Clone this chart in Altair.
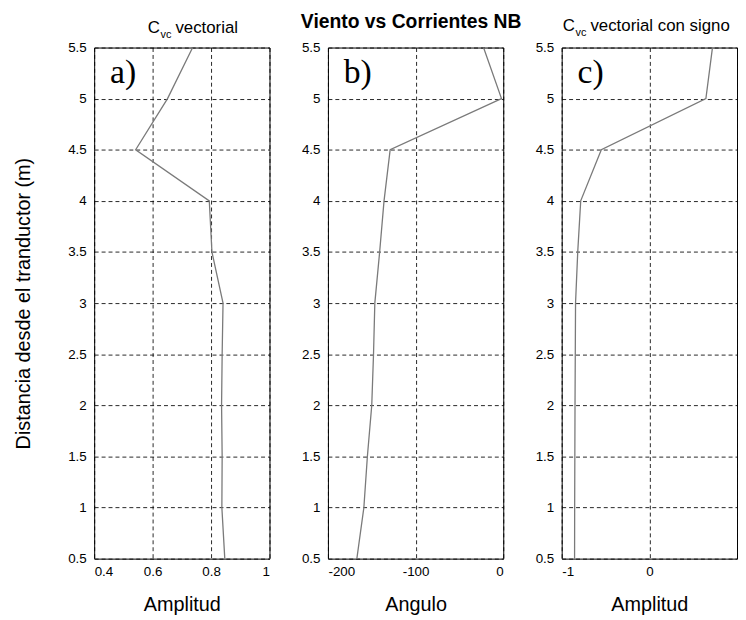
import altair as alt
import pandas as pd

# Heights above the transducer (m)
heights = [0.5, 1.0, 1.5, 2.0, 2.5, 3.0, 3.5, 4.0, 4.5, 5.0, 5.5]
# a) C_vc vectorial amplitude
amp_vec = [0.847, 0.837, 0.838, 0.836, 0.838, 0.841, 0.803, 0.794, 0.542, 0.651, 0.737]
# b) angle (degrees)
angle = [-167, -159, -155, -150, -148, -146.5, -141, -136, -129, -2, -22.5]
# c) C_vc vectorial con signo
amp_sign = [-0.853, -0.852, -0.85, -0.848, -0.845, -0.842, -0.817, -0.783, -0.548, 0.645, 0.72]

y_ticks = [0.5, 1.0, 1.5, 2.0, 2.5, 3.0, 3.5, 4.0, 4.5, 5.0, 5.5]
a_ticks = [0.4, 0.6, 0.8, 1.0]
b_ticks = [-200, -100, 0]
c_ticks = [-1, 0, 1]

W, H = 177, 516
FONT = "Liberation Sans"
LINE_COLOR = "#7a7a7a"


def text_layer(txt, x, y, size, weight="normal", font=FONT, align="left"):
    return alt.Chart(pd.DataFrame({"t": [txt]})).mark_text(
        align=align, baseline="alphabetic", fontSize=size, font=font,
        fontWeight=weight, color="black"
    ).encode(x=alt.value(x), y=alt.value(y), text="t:N")


def sub_title(x, y, rest):
    return [
        text_layer("C", x, y, 17),
        text_layer("vc", x + 13, y + 5, 11),
        text_layer(rest, x + 28, y, 17),
    ]


def panel(values, domain, ticks, xtitle, letter, title_layers, first=False, hide_last=False):
    df = pd.DataFrame({"h": heights, "v": values})
    lab = "datum.value == 1 ? '' : datum.value + ''" if hide_last else "datum.value + ''"
    xaxis = alt.Axis(values=ticks, labelExpr=lab, title=xtitle, titleFontSize=20,
                     titleFontWeight="normal", titlePadding=17, labelPadding=6)
    if first:
        yaxis = alt.Axis(values=y_ticks, labelExpr="datum.value + ''",
                         title="Distancia desde el tranductor (m)", titleFontSize=20,
                         titleFontWeight="normal", titlePadding=35, labelPadding=8)
    else:
        yaxis = alt.Axis(values=y_ticks, labelExpr="datum.value + ''", title=None,
                         labelPadding=8)
    line = alt.Chart(df).mark_line(color=LINE_COLOR, strokeWidth=1.3).encode(
        x=alt.X("v:Q", scale=alt.Scale(domain=domain, nice=False, zero=False), axis=xaxis),
        y=alt.Y("h:Q", scale=alt.Scale(domain=[0.5, 5.5], nice=False, zero=False), axis=yaxis),
        order=alt.Order("h:Q"),
    )
    lett = text_layer(letter, 16, 36, 34, font="Liberation Serif")
    return alt.layer(line, lett, *title_layers).properties(width=W, height=H)


pa = panel(amp_vec, [0.4, 1.0], a_ticks, "Amplitud", "a)", sub_title(54, -15, "vectorial"), first=True)
pb = panel(angle, [-200, 0], b_ticks, "Angulo", "b)",
           [text_layer("Viento vs Corrientes NB", 84, -20, 19.5, weight="bold", align="center")])
pc = panel(amp_sign, [-1, 1], c_ticks, "Amplitud", "c)", sub_title(1, -17, "vectorial con signo"),
           hide_last=True)

chart = alt.hconcat(pa, pb, pc, spacing=59, bounds="flush").properties(
    padding={"left": 4, "top": 0, "right": 0, "bottom": 0},
    background="white",
).configure_view(
    stroke="black", strokeWidth=1
).configure_axis(
    domain=False, ticks=False, grid=True, gridColor="black", gridDash=[4, 3],
    gridOpacity=0.85, gridWidth=1, labelFont=FONT, labelFontSize=13.5, labelColor="black",
    titleFont=FONT, titleColor="black"
)

chart.save("out.html", embed_options={"renderer": "svg", "actions": False})
